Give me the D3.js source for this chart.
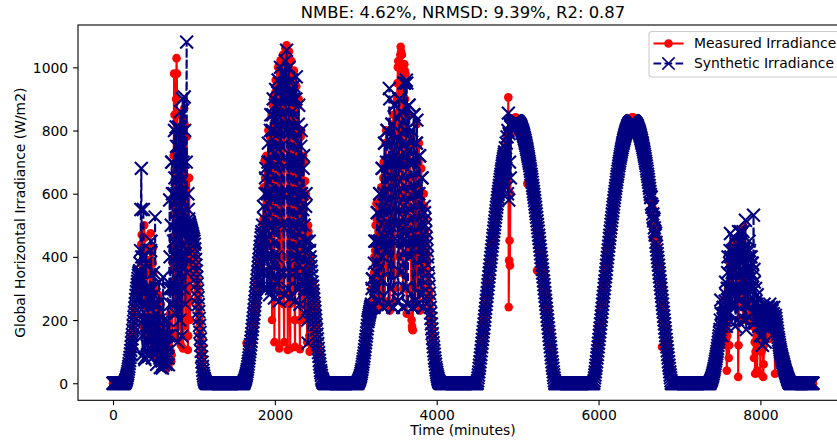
<!DOCTYPE html>
<html>
<head>
<meta charset="utf-8">
<script src="https://cdn.jsdelivr.net/npm/d3@7"></script>
<style>
  html, body { margin: 0; padding: 0; background: #fff; }
  svg { display: block; font-family: "DejaVu Sans", sans-serif; }
</style>
</head>
<body>
<div id="chart"></div>
<script>
// sampling step of the series (minutes)
const stepMinutes = 5;

// measured irradiance, one array per day (W/m2)
const measuredDay1 = [0,0,0,0,0,0,0,0,0,0,0,0,0,0,0,0,0,0,0,0,0,0,0,0,0,0,0,0,
  0,1,3,5,8,12,16,22,28,35,42,50,59,68,78,88,99,110,122,135,148,162,176,190,204,218,232,246,259,272,283,294,305,315,325,335,341,347,352,
  330,300,380,440,470,350,250,180,320,420,500,460,300,160,220,350,420,390,280,230,180,150,200,260,380,430,475,300,200,120,260,380,430,
  350,200,150,90,140,220,300,250,180,110,160,230,280,200,120,70,110,180,250,200,140,60,90,130,180,150,110,80,60,90,70,50,45,
  60,120,90,70,55,80,140,180,220,150,100,70,90,160,220,
  380,560,720,980,850,600,150,400,900,1029,980,700,450,300,180,250,520,850,700,400,120,200,600,500,300,110,180,450,870,820,600,300,200,500,780,650,400,105,150,300,650,500,200,260,500,420,330,400,470,460,450,440,430,
  430,415,400,385,368,350,330,310,290,268,246,224,202,180,158,137,117,98,81,66,52,40,30,22,15,10,6,3,1,0,0,0,0,
  0,0,0,0,0,0,0,0,0,0,0,0,0,0,0,0,0,0,0,0,0,0,0,0,0,0,0,0,0,0,0,0,0,0,0,0,0,0,0,0,0,0,0,0,0,0,0,0,0,0,0,0,0,0];
const measuredDay2 = [0,0,0,0,0,0,0,0,0,0,0,0,0,0,0,0,0,0,0,0,0,0,0,0,0,0,0,0,0,0,0,0,0,0,0,0,
  5,8,11,15,20,26,127,40,48,55,62,70,78,85,93,101,110,120,130,140,153,166,180,192,204,215,227,238,250,263,276,290,303,316,330,343,356,370,383,396,410,423,436,450,462,
  484,350,500,520,620,400,706,650,480,560,
  720,580,650,300,700,801,720,450,600,780,
  690,760,500,850,200,600,880,906,700,300,
  130,800,920,960,500,850,700,950,400,1000,
  900,300,110,700,980,1022,850,500,280,900,
  1000,1040,700,250,130,900,1030,1060,950,800,
  1070,1000,400,105,600,1000,1050,700,250,110,
  800,980,1020,600,400,260,850,960,990,500,
  200,115,700,900,940,800,350,600,880,750,
  900,400,200,108,600,780,800,500,300,200,
  600,720,700,550,250,500,640,600,590,350,
  200,130,400,500,480,300,150,100,350,400,
  380,200,130,110,
  320,310,300,287,273,260,247,233,220,203,187,170,153,137,120,107,93,80,68,57,45,37,28,20,15,10,5,3,1,0,
  0,0,0,0,0,0,0,0,0,0,0,0,0,0,0,0,0,0,0,0,0,0,0,0,0,0,0,0,0,0,0,0,0,0,0,0,0,0,0,0,0,0,0,0,0,0,0,0,0,0,0,0,0];
const measuredDay3 = [0,0,0,0,0,0,0,0,0,0,0,0,0,0,0,0,0,0,0,0,0,0,0,0,0,0,0,0,0,0,
  3,5,7,10,14,18,22,28,34,40,47,55,62,71,80,90,100,110,120,132,143,155,167,178,190,198,207,215,220,225,230,238,248,
  260,300,220,240,330,280,350,400,300,420,
  500,380,569,520,350,300,450,400,480,550,
  300,240,500,580,620,450,280,350,600,650,
  700,400,260,250,700,760,801,600,350,500,
  650,700,650,400,250,230,600,700,760,500,
  350,400,750,820,850,500,300,260,550,650,
  700,800,850,900,950,1000,1020,600,400,350,
  900,1040,1065,1050,1040,1040,700,500,300,800,
  950,1010,990,900,980,600,300,220,600,750,
  850,600,500,400,650,700,780,500,300,200,
  180,170,168,400,600,700,500,300,250,600,
  750,820,600,400,300,500,700,760,500,300,
  230,500,600,680,450,350,300,450,550,600,
  560,520,480,460,440,
  420,400,380,360,340,320,300,283,267,250,233,217,200,187,173,160,147,133,120,108,97,85,75,65,55,47,38,30,24,18,12,8,5,3,1,0,
  0,0,0,0,0,0,0,0,0,0,0,0,0,0,0,0,0,0,0,0,0,0,0,0,0,0,0,0,0,0,0,0,0,0,0,0,0,0,0,0,0,0,0,0,0,0,0,0,0,0,0,0,0,0];
const measuredDay4 = [0,0,0,0,0,0,0,0,0,0,0,0,0,0,0,0,0,0,0,0,0,0,0,0,0,0,0,0,0,0,0,0,0,0,0,0,
  2,12,22,32,42,53,64,75,86,97,
  109,121,133,145,157,169,181,193,205,217,
  230,242,255,267,280,292,305,317,329,342,
  354,366,379,391,403,415,427,439,451,463,
  474,486,497,508,519,530,541,551,562,572,
  583,593,603,612,622,631,641,650,659,667,
  676,684,693,701,708,716,723,730,737,744,
  750,757,763,768,774,779,800,905,241,389,
  452,373,600,790,815,820,823,826,829,832,
  834,836,838,840,840,840,
  841,
  834,833,833,832,830,829,827,826,824,821,
  819,816,812,809,805,801,797,793,788,783,
  778,773,767,762,756,749,743,632,729,722,
  715,707,700,692,683,675,666,658,649,640,
  630,621,611,602,592,582,571,561,550,540,
  529,357,507,496,485,473,462,450,438,426,
  414,402,390,378,365,353,341,328,316,304,
  291,279,266,254,241,229,216,204,192,179,
  167,155,143,131,119,107,95,84,72,61,
  51,40,30,21,12,4,
  0,0,0,0,0,0,0,0,0,0,0,0,0,0,0,0,0,0,0,0,0,0,0,0,0,0,0,0,0,0,0,0,0,0,0,0,0,0,0,0,0,0,0,0,0,0,0,0,0,0,0,0,0,0,0,0,0,0,0];
const measuredDay5 = [0,0,0,0,0,0,0,0,0,0,0,0,0,0,0,0,0,0,0,0,0,0,0,0,0,0,0,0,0,0,0,0,0,0,0,0,
  2,11,21,30,40,51,62,73,85,96,
  108,120,132,144,156,168,180,193,205,217,
  230,242,255,267,280,292,305,317,329,342,
  354,366,379,391,403,415,427,439,451,463,
  474,486,497,508,519,531,542,552,563,573,
  584,594,604,614,624,633,643,652,661,669,
  678,686,695,703,711,719,726,733,740,747,
  754,761,767,773,779,784,789,794,799,803,
  807,811,815,818,822,825,827,830,832,834,
  836,837,839,840,840,841,
  841,
  841,840,840,839,837,836,834,833,831,828,
  826,823,819,816,812,808,804,800,795,790,
  785,780,774,769,763,756,750,743,736,729,
  722,714,707,699,690,682,673,665,656,647,
  637,628,618,609,599,589,578,568,557,547,
  536,525,514,503,492,480,469,457,445,433,
  421,409,397,385,372,360,348,335,323,311,
  298,286,115,261,248,236,223,211,199,186,
  174,162,150,138,126,114,102,91,79,68,
  57,46,36,26,16,6,
  0,0,0,0,0,0,0,0,0,0,0,0,0,0,0,0,0,0,0,0,0,0,0,0,0,0,0,0,0,0,0,0,0,0,0,0,0,0,0,0,0,0,0,0,0,0,0,0,0,0,0,0,0,0,0,0,0,0,0];
const measuredDay6 = [0,0,0,0,0,0,0,0,0,0,0,0,0,0,0,0,0,0,0,0,0,0,0,0,0,0,0,0,0,0,0,0,0,0,0,0,
  3,5,7,10,13,16,22,27,32,38,45,51,58,65,73,80,88,97,105,113,122,130,140,150,160,170,180,190,170,150,180,210,230,
  230,200,180,190,220,270,250,120,40,150,
  260,300,200,80,120,300,380,350,300,260,
  300,380,420,400,447,430,400,380,420,440,
  300,380,420,380,400,350,20,120,250,300,
  420,420,400,300,350,470,420,300,200,280,
  495,380,350,300,280,350,400,300,200,250,
  330,300,260,240,300,220,220,250,250,200,
  200,220,220,180,200,80,200,130,30,100,
  190,170,150,40,180,150,120,140,170,160,
  140,30,160,150,100,120,140,110,20,60,
  120,150,200,240,180,160,210,250,190,150,
  200,230,170,140,190,220,160,200,240,180,
  200,220,190,210,230,200,215,30,210,200,
  195,185,175,165,155,
  147,139,131,123,115,108,101,94,88,83,78,73,68,63,58,53,48,43,38,33,29,25,21,17,13,10,7,4,2,0,
  0,0,0,0,0,0,0,0,0,0,0,0,0,0,0,0,0,0,0,0,0,0,0,0,0,0,0,0,0,0,0,0,0,0,0,0,0,0,0,0,0,0,0,0,0,0,0,0,0,0,0,0,0,0,0,0,0];

// synthetic irradiance, one array per day (W/m2)
const synthDay1 = [0,0,0,0,0,0,0,0,0,0,0,0,0,0,0,0,0,0,0,0,0,0,0,0,0,0,0,0,
  0,1,3,6,9,13,18,24,30,37,45,53,62,72,82,93,104,116,128,141,154,168,182,196,210,224,238,252,265,278,290,301,312,322,332,341,348,353,356,
  380,420,550,680,400,150,90,250,550,400,200,80,75,180,300,380,250,120,90,200,300,180,85,150,300,420,420,450,300,150,80,120,250,
  350,280,150,130,526,250,250,120,60,100,200,250,180,100,320,200,80,50,90,150,120,70,48,60,336,160,200,150,90,120,80,60,100,
  150,200,120,80,58,150,300,580,400,250,300,500,700,700,600,
  300,250,450,600,800,650,400,220,811,750,600,300,130,400,811,750,500,200,350,860,700,400,150,600,900,700,400,300,906,800,500,250,400,700,1080,350,500,600,550,520,510,505,500,495,490,485,480,475,470,465,460,455,450,
  440,425,410,392,374,355,335,314,293,271,249,227,205,183,161,140,120,101,83,67,53,41,31,23,16,11,7,4,2,1,0,0,0,
  0,0,0,0,0,0,0,0,0,0,0,0,0,0,0,0,0,0,0,0,0,0,0,0,0,0,0,0,0,0,0,0,0,0,0,0,0,0,0,0,0,0,0,0,0,0,0,0,0,0,0,0,0,0];
const synthDay2 = [0,0,0,0,0,0,0,0,0,0,0,0,0,0,0,0,0,0,0,0,0,0,0,0,0,0,0,0,0,0,0,0,0,0,0,0,
  4,7,10,14,19,24,30,37,44,52,61,70,80,90,100,110,122,133,145,157,170,182,195,207,220,233,247,260,273,287,300,313,327,340,353,367,380,393,407,420,433,447,460,470,480,
  350,500,420,560,300,520,450,600,650,680,
  400,300,300,600,700,760,500,350,280,700,
  800,850,600,300,400,800,850,900,500,300,
  270,750,880,930,600,400,320,850,920,960,
  700,350,260,800,950,1000,750,600,500,850,
  940,980,600,350,280,900,980,1020,800,950,
  1054,900,500,300,700,900,1000,600,350,270,
  800,920,960,700,500,400,800,900,940,600,
  350,260,700,900,970,700,400,300,700,820,
  880,500,300,250,600,750,800,600,400,320,
  550,680,720,500,300,220,450,560,600,450,
  350,300,200,127,300,420,450,420,400,385,
  370,355,340,320,
  307,293,280,267,253,240,227,213,200,185,170,155,140,125,110,97,85,72,61,51,40,33,25,16,12,8,4,2,1,0,
  0,0,0,0,0,0,0,0,0,0,0,0,0,0,0,0,0,0,0,0,0,0,0,0,0,0,0,0,0,0,0,0,0,0,0,0,0,0,0,0,0,0,0,0,0,0,0,0,0,0,0,0,0];
const synthDay3 = [0,0,0,0,0,0,0,0,0,0,0,0,0,0,0,0,0,0,0,0,0,0,0,0,0,0,0,0,0,0,
  4,6,9,12,16,20,25,31,37,44,52,60,68,77,86,96,106,117,128,138,149,160,172,183,195,202,208,215,222,228,235,240,245,
  250,300,330,330,280,240,240,380,450,450,
  350,300,300,450,540,540,380,260,260,450,
  600,600,450,330,330,550,680,680,400,240,
  240,600,760,760,550,420,420,700,800,800,
  450,250,250,700,933,900,500,300,300,650,
  820,820,450,240,240,700,880,880,600,500,
  500,700,780,780,450,260,260,700,900,900,
  550,350,350,700,860,860,450,240,240,750,
  950,950,500,300,300,800,959,950,450,250,
  250,700,880,880,550,400,400,700,800,800,
  450,240,240,700,850,850,450,260,260,600,
  760,760,833,600,450,250,250,600,720,720,
  450,280,280,500,650,650,400,240,240,450,
  560,540,520,500,480,
  460,440,420,400,375,350,330,307,285,263,240,222,205,188,172,157,142,128,115,103,92,80,70,60,50,42,34,27,21,15,10,6,4,2,1,0,
  0,0,0,0,0,0,0,0,0,0,0,0,0,0,0,0,0,0,0,0,0,0,0,0,0,0,0,0,0,0,0,0,0,0,0,0,0,0,0,0,0,0,0,0,0,0,0,0,0,0,0,0,0,0];
const synthDay4 = [0,0,0,0,0,0,0,0,0,0,0,0,0,0,0,0,0,0,0,0,0,0,0,0,0,0,0,0,0,0,0,0,0,0,0,0,
  0,8,17,26,36,47,57,68,80,91,
  103,115,127,139,151,163,175,188,200,212,
  225,237,250,262,275,287,300,312,324,337,
  349,361,374,386,398,410,422,434,446,458,
  469,481,492,503,514,525,536,546,557,567,
  578,588,598,607,617,626,636,645,654,662,
  671,679,688,696,703,711,718,725,732,700,
  745,680,760,620,780,600,800,855,580,790,
  700,820,650,812,815,817,820,822,823,825,
  826,828,829,829,830,830,
  830,
  830,829,829,828,826,825,823,822,820,817,
  815,812,808,805,801,797,793,789,784,779,
  774,769,763,758,752,745,739,732,725,718,
  711,703,696,688,679,671,662,654,645,636,
  626,617,607,598,588,578,567,557,546,536,
  525,514,503,492,481,469,458,446,434,422,
  410,398,386,374,361,349,337,324,312,300,
  287,275,262,250,237,225,212,200,188,175,
  163,151,139,127,115,103,91,80,68,57,
  47,36,26,17,8,0,
  0,0,0,0,0,0,0,0,0,0,0,0,0,0,0,0,0,0,0,0,0,0,0,0,0,0,0,0,0,0,0,0,0,0,0,0,0,0,0,0,0,0,0,0,0,0,0,0,0,0,0,0,0,0,0,0,0,0,0];
const synthDay5 = [0,0,0,0,0,0,0,0,0,0,0,0,0,0,0,0,0,0,0,0,0,0,0,0,0,0,0,0,0,0,0,0,0,0,0,0,
  0,8,17,26,36,47,57,68,80,91,
  103,115,127,139,151,163,175,188,200,212,
  225,237,250,262,275,287,300,312,324,337,
  349,361,374,386,398,410,422,434,446,458,
  469,481,492,503,514,525,536,546,557,567,
  578,588,598,607,617,626,636,645,654,662,
  671,679,688,696,703,711,718,725,732,739,
  745,752,758,763,769,774,779,784,789,793,
  797,801,805,808,812,815,817,820,822,823,
  825,826,828,829,829,830,
  830,
  830,829,829,828,826,825,823,822,820,817,
  815,812,808,805,801,797,793,789,784,779,
  774,769,763,758,752,745,739,732,725,718,
  711,703,696,688,679,671,662,654,645,636,
  626,617,607,598,588,590,567,557,560,536,
  525,514,520,492,481,469,475,446,434,422,
  410,398,386,374,361,349,337,324,312,300,
  287,275,262,250,237,225,212,200,188,175,
  163,151,139,127,115,103,91,80,68,57,
  47,36,26,17,8,0,
  0,0,0,0,0,0,0,0,0,0,0,0,0,0,0,0,0,0,0,0,0,0,0,0,0,0,0,0,0,0,0,0,0,0,0,0,0,0,0,0,0,0,0,0,0,0,0,0,0,0,0,0,0,0,0,0,0,0,0];
const synthDay6 = [0,0,0,0,0,0,0,0,0,0,0,0,0,0,0,0,0,0,0,0,0,0,0,0,0,0,0,0,0,0,0,0,0,0,0,0,
  4,6,9,12,16,20,25,30,36,42,48,55,62,70,77,85,93,101,110,120,130,140,150,160,170,200,263,220,180,150,190,220,240,
  240,200,220,200,260,320,280,180,220,300,
  350,400,300,220,260,380,420,474,400,300,
  250,350,420,380,300,400,460,420,300,180,
  250,380,440,350,200,300,420,480,400,260,
  300,450,480,420,450,380,300,420,480,350,
  250,200,300,350,516,200,170,250,420,380,
  300,250,350,450,420,400,300,350,400,380,
  300,380,340,220,532,360,320,190,250,300,
  260,250,220,280,210,240,200,180,240,230,
  150,200,230,220,200,150,120,180,210,190,
  250,190,210,130,200,240,180,220,200,170,
  240,210,190,230,250,200,180,220,240,200,
  230,210,200,220,240,210,200,190,215,205,
  195,185,175,165,155,
  145,137,129,121,113,106,99,92,86,80,75,70,65,60,55,50,45,40,36,32,28,24,20,16,12,9,6,3,1,0,
  0,0,0,0,0,0,0,0,0,0,0,0,0,0,0,0,0,0,0,0,0,0,0,0,0,0,0,0,0,0,0,0,0,0,0,0,0,0,0,0,0,0,0,0,0,0,0,0,0,0,0,0,0,0,0,0,0];

// axis ticks and texts
const xTicks = [0, 2000, 4000, 6000, 8000];
const yTicks = [0, 200, 400, 600, 800, 1000];
const titleText = "NMBE: 4.62%, NRMSD: 9.39%, R2: 0.87";
const xLabel = "Time (minutes)";
const yLabel = "Global Horizontal Irradiance (W/m2)";
const seriesNames = ["Measured Irradiance", "Synthetic Irradiance"];

const measured = [].concat(measuredDay1, measuredDay2, measuredDay3, measuredDay4, measuredDay5, measuredDay6)
  .map((v, i) => ({ t: i * stepMinutes, v: v }));
const synthetic = [].concat(synthDay1, synthDay2, synthDay3, synthDay4, synthDay5, synthDay6)
  .map((v, i) => ({ t: i * stepMinutes, v: v }));

// chart settings (axes box runs past the right edge, like the cropped figure)
const width = 837;
const height = 444;
const axLeft = 78, axRight = 848, axTop = 25, axBottom = 400.3;
const fontSize = 13.9;

const red = "#ff0000";
const navy = "#000080";

// matplotlib-like 5% margins
const all = measured.concat(synthetic);
const tExt = d3.extent(all, (d) => d.t);
const vExt = d3.extent(all, (d) => d.v);
const tPad = (tExt[1] - tExt[0]) * 0.05;
const vPad = (vExt[1] - vExt[0]) * 0.05;

const x = d3.scaleLinear().domain([tExt[0] - tPad, tExt[1] + tPad]).range([axLeft, axRight]);
const y = d3.scaleLinear().domain([vExt[0] - vPad, vExt[1] + vPad]).range([axBottom, axTop]);

const svg = d3.select("#chart").append("svg")
  .attr("width", width)
  .attr("height", height);

svg.append("defs").append("clipPath").attr("id", "clip")
  .append("rect")
  .attr("x", axLeft).attr("y", axTop)
  .attr("width", axRight - axLeft).attr("height", axBottom - axTop);

const plot = svg.append("g").attr("clip-path", "url(#clip)");

const line = d3.line().x((d) => x(d.t)).y((d) => y(d.v));

// measured: solid red line with circles
plot.append("path")
  .datum(measured)
  .attr("d", line)
  .attr("fill", "none")
  .attr("stroke", red)
  .attr("stroke-width", 2.08)
  .attr("stroke-linejoin", "round");

plot.append("g")
  .selectAll("circle")
  .data(measured)
  .enter()
  .append("circle")
  .attr("cx", (d) => x(d.t))
  .attr("cy", (d) => y(d.v))
  .attr("r", 4.3)
  .attr("fill", red);

// synthetic: dashed navy line with x markers
plot.append("path")
  .datum(synthetic)
  .attr("d", line)
  .attr("fill", "none")
  .attr("stroke", navy)
  .attr("stroke-width", 2.08)
  .attr("stroke-dasharray", "7.7,3.3");

const xMark = d3.symbol().type(d3.symbolX).size(110);
plot.append("g")
  .selectAll("path")
  .data(synthetic)
  .enter()
  .append("path")
  .attr("d", xMark)
  .attr("transform", (d) => "translate(" + x(d.t) + "," + y(d.v) + ")")
  .attr("fill", "none")
  .attr("stroke", navy)
  .attr("stroke-width", 2.1);

// axes
const xAxis = d3.axisBottom(x).tickValues(xTicks).tickFormat(d3.format("d"))
  .tickSizeInner(4.9).tickSizeOuter(0).tickPadding(4.9);
const yAxis = d3.axisLeft(y).tickValues(yTicks).tickFormat(d3.format("d"))
  .tickSizeInner(4.9).tickSizeOuter(0).tickPadding(4.9);

const gx = svg.append("g")
  .attr("transform", "translate(0," + axBottom + ")")
  .call(xAxis);
const gy = svg.append("g")
  .attr("transform", "translate(" + axLeft + ",0)")
  .call(yAxis);

[gx, gy].forEach((g) => {
  g.select(".domain").remove();
  g.selectAll(".tick line").attr("stroke", "#000").attr("stroke-width", 1.1);
  g.selectAll(".tick text")
    .attr("fill", "#000")
    .style("font-size", fontSize + "px")
    .style("font-family", "DejaVu Sans");
});
gy.selectAll(".tick text").attr("dy", "0.36em");

// spines
svg.append("rect")
  .attr("x", axLeft).attr("y", axTop)
  .attr("width", axRight - axLeft).attr("height", axBottom - axTop)
  .attr("fill", "none")
  .attr("stroke", "#000")
  .attr("stroke-width", 1.1);

// title and labels
const midX = (axLeft + axRight) / 2;
svg.append("text")
  .attr("x", midX).attr("y", 17.5)
  .attr("text-anchor", "middle")
  .style("font-size", "16.4px")
  .text(titleText);

svg.append("text")
  .attr("x", midX).attr("y", 435)
  .attr("text-anchor", "middle")
  .style("font-size", fontSize + "px")
  .text(xLabel);

svg.append("text")
  .attr("transform", "translate(25," + (axTop + axBottom) / 2 + ") rotate(-90)")
  .attr("text-anchor", "middle")
  .style("font-size", fontSize + "px")
  .text(yLabel);

// legend
const legend = svg.append("g");
legend.append("rect")
  .attr("x", 649).attr("y", 31.5)
  .attr("width", 190).attr("height", 45.5)
  .attr("rx", 3)
  .attr("fill", "#fff")
  .attr("fill-opacity", 0.8)
  .attr("stroke", "#cccccc")
  .attr("stroke-width", 1.1);

const rows = [
  { name: seriesNames[0], color: red, dash: null, y: 43.5 },
  { name: seriesNames[1], color: navy, dash: "7.7,3.3", y: 63.5 }
];
const legendMark = d3.symbol().type(d3.symbolX).size(100);
rows.forEach((r, i) => {
  legend.append("line")
    .attr("x1", 653.5).attr("x2", 683.5)
    .attr("y1", r.y).attr("y2", r.y)
    .attr("stroke", r.color)
    .attr("stroke-width", 2.08)
    .attr("stroke-dasharray", r.dash);
  if (i === 0) {
    legend.append("circle").attr("cx", 668.5).attr("cy", r.y).attr("r", 4.3).attr("fill", red);
  } else {
    legend.append("path").attr("d", legendMark)
      .attr("transform", "translate(668.5," + r.y + ")")
      .attr("fill", "none").attr("stroke", navy).attr("stroke-width", 1.5);
  }
  legend.append("text")
    .attr("x", 694).attr("y", r.y + 4.9)
    .style("font-size", fontSize + "px")
    .text(r.name);
});
</script>
</body>
</html>
